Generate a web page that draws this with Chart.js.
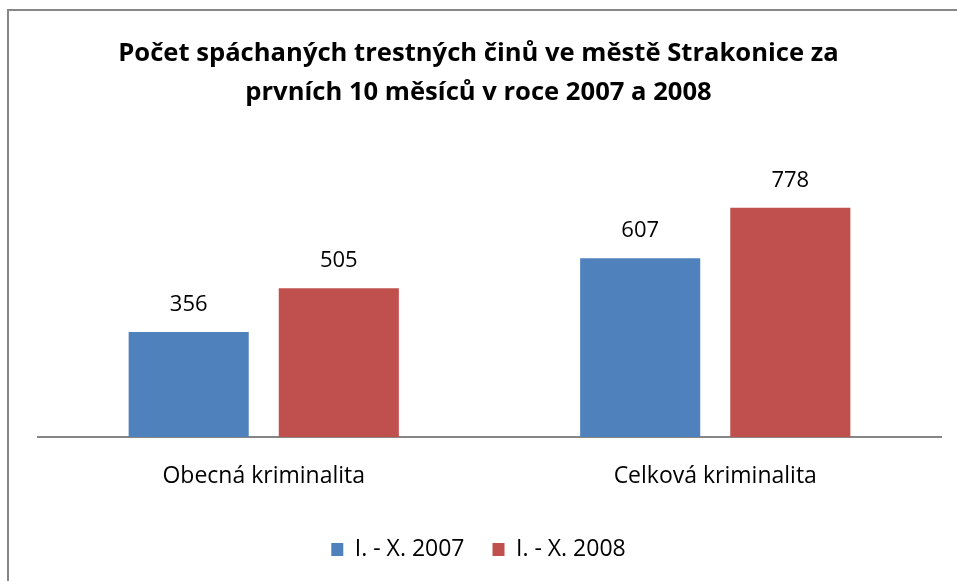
<!DOCTYPE html>
<html>
<head>
<meta charset="utf-8">
<script src="https://cdn.jsdelivr.net/npm/chart.js@4"></script>
<style>
  html, body { margin: 0; padding: 0; background: #fff; overflow: hidden; }
  #wrap { position: relative; width: 957px; height: 581px; }
  #frame { position: absolute; left: 7px; top: 9px; width: 2000px; height: 2000px;
           border-left: 2px solid #868686; border-top: 2px solid #868686; }
  canvas { position: absolute; left: 0; top: 0; }
</style>
</head>
<body>
<div id="wrap">
  <div id="frame"></div>
  <canvas id="c" width="957" height="581"></canvas>
</div>
<script>
const categories = ["Obecná kriminalita", "Celková kriminalita"];
const seriesNames = ["I. - X. 2007", "I. - X. 2008"];
const values2007 = [356, 607];
const values2008 = [505, 778];
const titleLines = ["Počet spáchaných trestných činů ve městě Strakonice za", "prvních 10 měsíců v roce 2007 a 2008"];

const FONT = "'Open Sans', Lato, sans-serif";

const valueLabels = {
  id: "valueLabels",
  afterDatasetsDraw(chart) {
    const ctx = chart.ctx;
    ctx.save();
    ctx.font = "22px " + FONT;
    ctx.fillStyle = "#000";
    ctx.textAlign = "center";
    ctx.textBaseline = "middle";
    chart.data.datasets.forEach((ds, i) => {
      const meta = chart.getDatasetMeta(i);
      meta.data.forEach((bar, j) => {
        ctx.fillText(String(ds.data[j]), bar.x, bar.y - 27);
      });
    });
    ctx.restore();
  }
};

new Chart(document.getElementById("c"), {
  type: "bar",
  data: {
    labels: categories,
    datasets: [
      { label: seriesNames[0], data: values2007, backgroundColor: "#4F81BD", borderWidth: 0,
        categoryPercentage: 0.665, barPercentage: 0.8 },
      { label: seriesNames[1], data: values2008, backgroundColor: "#C0504D", borderWidth: 0,
        categoryPercentage: 0.665, barPercentage: 0.8 }
    ]
  },
  options: {
    responsive: false,
    animation: false,
    devicePixelRatio: 1,
    layout: { padding: { left: 16, right: 16, top: 0, bottom: 10 } },
    scales: {
      x: {
        grid: { display: false, drawTicks: false },
        border: { display: true, color: "#868686", width: 2 },
        ticks: { color: "#000", font: { family: FONT, size: 23 }, padding: 26 },
        afterFit(scale) { scale.height = 73; }
      },
      y: {
        display: true, min: 0, max: 900,
        grid: { display: false, drawTicks: false },
        border: { display: false },
        ticks: { display: false },
        afterFit(scale) { scale.width = 22; }
      }
    },
    plugins: {
      title: {
        display: true,
        text: titleLines,
        color: "#000",
        font: { family: FONT, size: 25.6, weight: "bold", lineHeight: 1.5 },
        padding: { top: 35, bottom: 60 }
      },
      legend: {
        position: "bottom",
        labels: { color: "#000", font: { family: FONT, size: 23 }, boxWidth: 12, boxHeight: 13, padding: 28 }
      },
      tooltip: { enabled: false }
    }
  },
  plugins: [valueLabels]
});
</script>
</body>
</html>
